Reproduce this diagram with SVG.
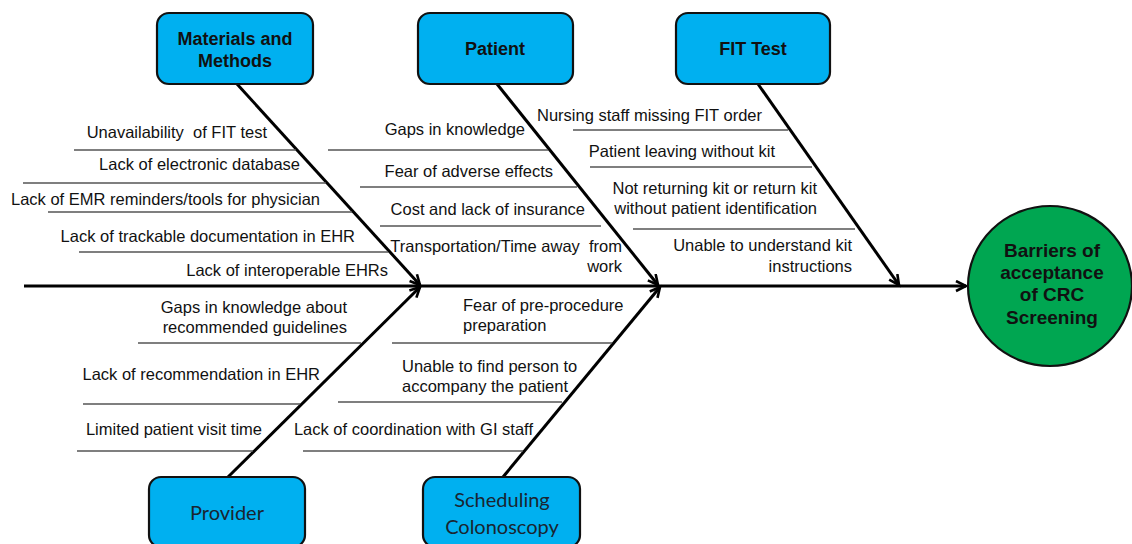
<svg xmlns="http://www.w3.org/2000/svg" width="1132" height="544" viewBox="0 0 1132 544">
<style>
.box{fill:#00B0F0;stroke:#111;stroke-width:2.2}
.head{font-family:"Liberation Sans",Arial,sans-serif;font-weight:bold;font-size:18px;fill:#111;text-anchor:middle}
.head2{font-family:Lato,"Liberation Sans",sans-serif;font-size:20px;fill:#1a2530;text-anchor:middle}
.t{font-family:"Liberation Sans",Arial,sans-serif;font-size:16.5px;fill:#111}
.e{text-anchor:end}
.rib{stroke:#555;stroke-width:1.3;fill:none}
.bone{stroke:#000;stroke-width:3;fill:none;marker-end:url(#arr)}
</style>
<defs>
<marker id="arr" markerUnits="userSpaceOnUse" markerWidth="14" markerHeight="14" refX="11" refY="6" orient="auto">
<path d="M1,1 L11,6 L1,11" fill="none" stroke="#000" stroke-width="2.6"/>
</marker>
</defs>
<rect width="1132" height="544" fill="#fff"/>
<g id="connectors">
<line class="bone" x1="24" y1="286" x2="966" y2="286"/>
<line class="bone" x1="237" y1="84" x2="420" y2="285"/>
<line class="bone" x1="497" y1="84" x2="658" y2="285"/>
<line class="bone" x1="758" y1="84" x2="899" y2="285"/>
<line class="bone" x1="228" y1="477" x2="420" y2="287"/>
<line class="bone" x1="503" y1="477" x2="660" y2="287"/>
<line class="rib" x1="74" y1="150" x2="296" y2="150"/>
<line class="rib" x1="23" y1="183" x2="326" y2="183"/>
<line class="rib" x1="48" y1="212" x2="352" y2="212"/>
<line class="rib" x1="79" y1="252" x2="388" y2="252"/>
<line class="rib" x1="328" y1="150" x2="548" y2="150"/>
<line class="rib" x1="360" y1="187" x2="577" y2="187"/>
<line class="rib" x1="380" y1="226" x2="601" y2="226"/>
<line class="rib" x1="573" y1="130" x2="788" y2="130"/>
<line class="rib" x1="590" y1="167" x2="812" y2="167"/>
<line class="rib" x1="633" y1="229" x2="855" y2="229"/>
<line class="rib" x1="138" y1="343" x2="361" y2="343"/>
<line class="rib" x1="83" y1="404" x2="300" y2="404"/>
<line class="rib" x1="77" y1="451" x2="253" y2="451"/>
<line class="rib" x1="392" y1="343" x2="612" y2="343"/>
<line class="rib" x1="338" y1="402" x2="562" y2="402"/>
<line class="rib" x1="303" y1="451" x2="523" y2="451"/>
</g>
<g id="materials">
<rect class="box" x="157" y="13" width="156" height="71" rx="12"/>
<text class="head" x="235" y="45">Materials and</text>
<text class="head" x="235" y="67">Methods</text>
<text class="t e" x="267" y="138" xml:space="preserve">Unavailability  of FIT test</text>
<text class="t e" x="300" y="170">Lack of electronic database</text>
<text class="t e" x="320" y="205">Lack of EMR reminders/tools for physician</text>
<text class="t e" x="355" y="242">Lack of trackable documentation in EHR</text>
<text class="t e" x="388" y="276">Lack of interoperable EHRs</text>
</g>
<g id="patient">
<rect class="box" x="418" y="13" width="155" height="71" rx="12"/>
<text class="head" x="495" y="55">Patient</text>
<text class="t e" x="525" y="135">Gaps in knowledge</text>
<text class="t e" x="553" y="177">Fear of adverse effects</text>
<text class="t e" x="585" y="215">Cost and lack of insurance</text>
<text class="t e" x="622" y="252" xml:space="preserve">Transportation/Time away  from</text>
<text class="t e" x="622" y="272">work</text>
</g>
<g id="fit">
<rect class="box" x="676" y="13" width="154" height="71" rx="12"/>
<text class="head" x="753" y="55">FIT Test</text>
<text class="t e" x="762" y="121">Nursing staff missing FIT order</text>
<text class="t e" x="775" y="157">Patient leaving without kit</text>
<text class="t e" x="817" y="194">Not returning kit or return kit</text>
<text class="t e" x="817" y="214">without patient identification</text>
<text class="t e" x="852" y="251">Unable to understand kit</text>
<text class="t e" x="852" y="272">instructions</text>
</g>
<g id="provider">
<rect class="box" x="149" y="477" width="156" height="70" rx="12"/>
<text class="head2" x="227" y="520">Provider</text>
<text class="t e" x="347" y="313">Gaps in knowledge about</text>
<text class="t e" x="347" y="333">recommended guidelines</text>
<text class="t e" x="320" y="380">Lack of recommendation in EHR</text>
<text class="t e" x="262" y="435">Limited patient visit time</text>
</g>
<g id="scheduling">
<rect class="box" x="423" y="477" width="157" height="70" rx="12"/>
<text class="head2" x="502" y="507">Scheduling</text>
<text class="head2" x="502" y="534">Colonoscopy</text>
<text class="t" x="463" y="311">Fear of pre-procedure</text>
<text class="t" x="463" y="331">preparation</text>
<text class="t" x="402" y="372">Unable to find person to</text>
<text class="t" x="402" y="392">accompany the patient</text>
<text class="t e" x="533" y="435">Lack of coordination with GI staff</text>
</g>
<g id="outcome">
<ellipse cx="1050" cy="286" rx="82" ry="80" fill="#00A651" stroke="#111" stroke-width="2.2"/>
<text class="head" style="font-size:19px" x="1052" y="257">Barriers of</text>
<text class="head" style="font-size:19px" x="1052" y="279">acceptance</text>
<text class="head" style="font-size:19px" x="1052" y="301">of CRC</text>
<text class="head" style="font-size:19px" x="1052" y="324">Screening</text>
</g>
</svg>
